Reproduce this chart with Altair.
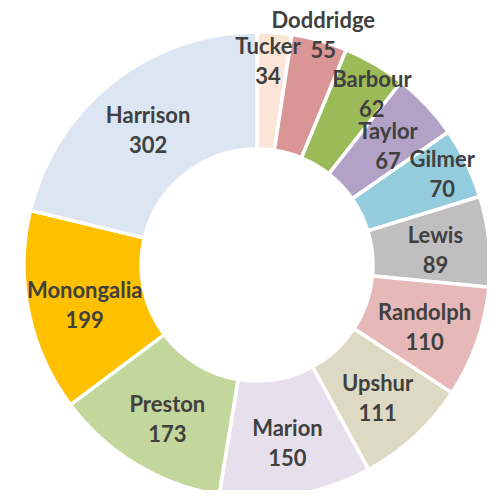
import altair as alt
import pandas as pd

counties = ["Tucker", "Doddridge", "Barbour", "Taylor", "Gilmer", "Lewis",
            "Randolph", "Upshur", "Marion", "Preston", "Monongalia", "Harrison"]
values = [34, 55, 62, 67, 70, 89, 110, 111, 150, 173, 199, 302]
colors = ["#FCE4D6", "#D99694", "#9BBB59", "#B3A2C7", "#93CDDD", "#BFBFBF",
          "#E6B9B8", "#DDD9C3", "#E5E0EC", "#C3D69B", "#FFC000", "#DCE6F2"]
# label placement (layout only, mirrors the adjusted data labels)
label_radius = [203, 238, 205, 176, 206, 179, 179, 180, 182, 179, 177, 173]
label_angle_adj = [-1.2, 0.6, 3.7, 1.4, 0.0, 1.3, 1.2, 0.6, 0.0, -1.2, -1.6, -0.8]

df = pd.DataFrame({
    "county": counties,
    "value": values,
    "idx": list(range(len(counties))),
    "label": [f"{c}\n{v}" for c, v in zip(counties, values)],
    "lr": label_radius,
    "adj": label_angle_adj,
})

cx, cy = 249, 257

arcs = alt.Chart(df).mark_arc(innerRadius=116, outerRadius=233, stroke="white",
                              strokeWidth=3.5).encode(
    theta=alt.Theta("value:Q", stack=True),
    order=alt.Order("idx:Q", sort="ascending"),
    x=alt.value(cx),
    y=alt.value(cy),
    color=alt.Color("county:N", scale=alt.Scale(domain=counties, range=colors),
                    legend=None),
)

labels = alt.Chart(df).transform_window(
    cum="sum(value)", sort=[alt.SortField("idx", order="ascending")]
).transform_joinaggregate(
    total="sum(value)"
).transform_calculate(
    mid="2 * PI * (datum.cum - datum.value / 2) / datum.total + datum.adj * PI / 180"
).mark_text(font="Lato", fontSize=22, fontWeight="bold",
            color="#404040", lineBreak="\n", lineHeight=30, dy=-15,
            align="center", baseline="middle").encode(
    theta=alt.Theta("mid:Q", scale=None),
    radius=alt.Radius("lr:Q", scale=None),
    x=alt.value(cx),
    y=alt.value(cy),
    text="label:N",
)

chart = alt.layer(arcs, labels).properties(
    width=479, height=482,
    autosize=alt.AutoSizeParams(type="none"),
    padding=0,
).configure_view(stroke=None)

chart.save("out.html", embed_options={"renderer": "svg", "actions": False})
